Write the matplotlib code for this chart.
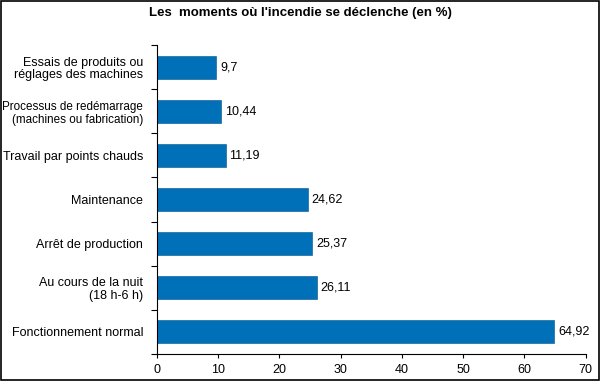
import matplotlib
matplotlib.use("Agg")
import matplotlib.pyplot as plt
from matplotlib.patches import Rectangle

categories = [
    "Fonctionnement normal",
    "Au cours de la nuit\n(18 h-6 h)",
    "Arrêt de production",
    "Maintenance",
    "Travail par points chauds",
    "Processus de redémarrage\n(machines ou fabrication)",
    "Essais de produits ou\nréglages des machines",
]
values = [64.92, 26.11, 25.37, 24.62, 11.19, 10.44, 9.7]
value_labels = ["64,92", "26,11", "25,37", "24,62", "11,19", "10,44", "9,7"]
xticks = [0, 10, 20, 30, 40, 50, 60, 70]

plt.rcParams['font.family'] = ['Liberation Sans', 'DejaVu Sans']
fig = plt.figure(figsize=(6, 3.81), dpi=100)
ax = fig.add_axes([0.2617, 0.0709, 0.976 - 0.2617, 0.882 - 0.0709])

ypos = list(range(len(categories)))
ax.barh(ypos, values, height=0.52, color="#0070B8", edgecolor="#00508a", linewidth=0.4)
for y, v, lab in zip(ypos, values, value_labels):
    ax.text(v + 0.6, y, lab, va="center", ha="left", fontsize=9)

ax.set_xlim(0, 70)
ax.set_ylim(-0.5, len(categories) - 0.5)
ax.set_xticks(xticks)
ax.set_xticklabels([str(t) for t in xticks], fontsize=9)
ax.set_yticks([y + 0.5 for y in range(-1, len(categories))], minor=False)
ax.set_yticklabels([])
ax.set_yticks(ypos, minor=True)
ax.set_yticklabels(categories, minor=True, fontsize=9, ha="right", multialignment="right",
                   linespacing=1.1)
for t in ax.get_yticklabels(minor=True):
    if t.get_text().startswith("Processus"):
        t.set_fontsize(8.4)
ax.tick_params(axis="y", which="minor", length=0, pad=10)
ax.tick_params(axis="y", which="major", length=4, direction="out", width=0.8)
ax.tick_params(axis="x", length=3, direction="out", width=0.8, pad=4)
for s in ["top", "right"]:
    ax.spines[s].set_visible(False)

fig.text(0.5, 0.965, "Les  moments où l'incendie se déclenche (en %)", ha="center", va="center",
         fontsize=9.5, fontweight="bold")
fig.patches.append(Rectangle((0.002, 0.003), 0.996, 0.994, transform=fig.transFigure,
                             fill=False, edgecolor="black", linewidth=1.2))
fig.savefig("out.png", dpi=100)
